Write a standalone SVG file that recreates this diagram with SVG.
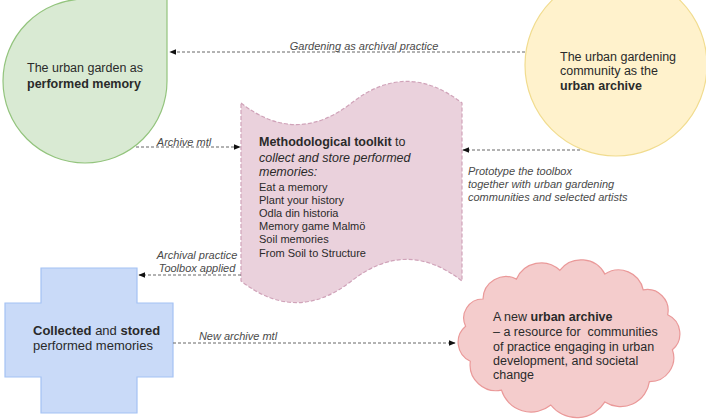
<svg xmlns="http://www.w3.org/2000/svg" width="706" height="419" viewBox="0 0 706 419">
<defs>
<style>
text{font-family:"Liberation Sans",Arial,sans-serif;fill:#2a2a2a}
.t{font-size:12.5px}
.s{font-size:11px}
.b{font-weight:bold}
.i{font-style:italic}
.lbl{font-size:11px;font-style:italic;fill:#4a4a4a}
.conn{fill:none;stroke:#666;stroke-width:1;stroke-dasharray:3 2}
</style>
<marker id="ah" viewBox="0 0 10 10" refX="9" refY="5" markerWidth="7" markerHeight="7" orient="auto" markerUnits="userSpaceOnUse">
<path d="M0,1 L10,5 L0,9 Z" fill="#111"/>
</marker>
</defs>
<rect width="706" height="419" fill="#fff"/>

<g id="garden">
<path d="M85,-1 L167,-1 L167,81 A82,82 0 1 1 85,-1 Z" fill="#d9ead3" stroke="#93c47d" stroke-width="1.2"/>
<text class="t" x="27" y="72">The urban garden as</text>
<text class="t b" x="27" y="88">performed memory</text>
</g>

<g id="community">
<circle cx="616" cy="65" r="91" fill="#fff2cc" stroke="#f1dc8f" stroke-width="1.2"/>
<text class="t" x="560" y="61">The urban gardening</text>
<text class="t" x="560" y="75">community as the</text>
<text class="t b" x="560" y="90">urban archive</text>
</g>

<g id="toolkit">
<path d="M241,103 Q296.25,146.2 351.5,103 Q406.75,59.8 462,103 L462,281 Q406.75,237.8 351.5,281 Q296.25,324.2 241,281 Z" fill="#ead1dc" stroke="#d0a3b9" stroke-width="1.2" stroke-dasharray="4 2"/>
<text class="t" x="259" y="146"><tspan class="b">Methodological toolkit</tspan> to</text>
<text class="t i" x="259" y="162">collect and store performed</text>
<text class="t i" x="259" y="176">memories:</text>
<text class="s" x="259" y="191">Eat a memory</text>
<text class="s" x="259" y="204">Plant your history</text>
<text class="s" x="259" y="217">Odla din historia</text>
<text class="s" x="259" y="230">Memory game Malmö</text>
<text class="s" x="259" y="243">Soil memories</text>
<text class="s" x="259" y="257">From Soil to Structure</text>
</g>

<g id="collected">
<path d="M41,268 L137,268 L137,303 L173,303 L173,377 L137,377 L137,413 L41,413 L41,377 L5,377 L5,303 L41,303 Z" fill="#c9daf8" stroke="#a4c2f4" stroke-width="1.2"/>
<text class="t" x="33" y="335" style="font-size:13px"><tspan class="b">Collected</tspan> and <tspan class="b">stored</tspan></text>
<text class="t" x="33" y="350" style="font-size:13px">performed memories</text>
</g>

<g id="newarchive">
<path d="M672.4,349.8 A24,24 0 0 1 649.4,381.7 A29,29 0 0 1 604.9,401.9 A33,33 0 0 1 550.8,405 A31,31 0 0 1 501.5,390.1 A26,26 0 0 1 470.3,361.3 A21,21 0 0 1 465.6,326.2 A19,19 0 0 1 483,299 A23,23 0 0 1 516.5,279.1 A27,27 0 0 1 559.8,270.3 A27,27 0 0 1 604.9,274.1 A25,25 0 0 1 643.2,289.9 A21,21 0 0 1 667.7,314.7 A21,21 0 0 1 672.4,349.8 Z" fill="#f4cccc" stroke="#ea9999" stroke-width="1.2"/>
<text class="t" x="493" y="321">A new <tspan class="b">urban archive</tspan></text>
<text class="t" x="493" y="336" xml:space="preserve">– a resource for  communities</text>
<text class="t" x="493" y="351">of practice engaging in urban</text>
<text class="t" x="493" y="365">development, and societal</text>
<text class="t" x="493" y="379">change</text>
</g>

<g id="connectors">
<path class="conn" d="M525,52 L170,52" marker-end="url(#ah)"/>
<text class="lbl" x="364" y="50" text-anchor="middle">Gardening as archival practice</text>
<path class="conn" d="M136,147 L240,147" marker-end="url(#ah)"/>
<text class="lbl" x="184" y="146" text-anchor="middle">Archive mtl</text>
<path class="conn" d="M580,150 L463,150" marker-end="url(#ah)"/>
<text class="lbl" x="468" y="175">Prototype the toolbox</text>
<text class="lbl" x="468" y="188">together with urban gardening</text>
<text class="lbl" x="468" y="201">communities and selected artists</text>
<path class="conn" d="M241,275 L139,275" marker-end="url(#ah)"/>
<text class="lbl" x="197" y="259" text-anchor="middle">Archival practice</text>
<text class="lbl" x="197" y="272" text-anchor="middle">Toolbox applied</text>
<path class="conn" d="M173,343 L455,343" marker-end="url(#ah)"/>
<text class="lbl" x="238" y="340" text-anchor="middle">New archive mtl</text>
</g>
</svg>
